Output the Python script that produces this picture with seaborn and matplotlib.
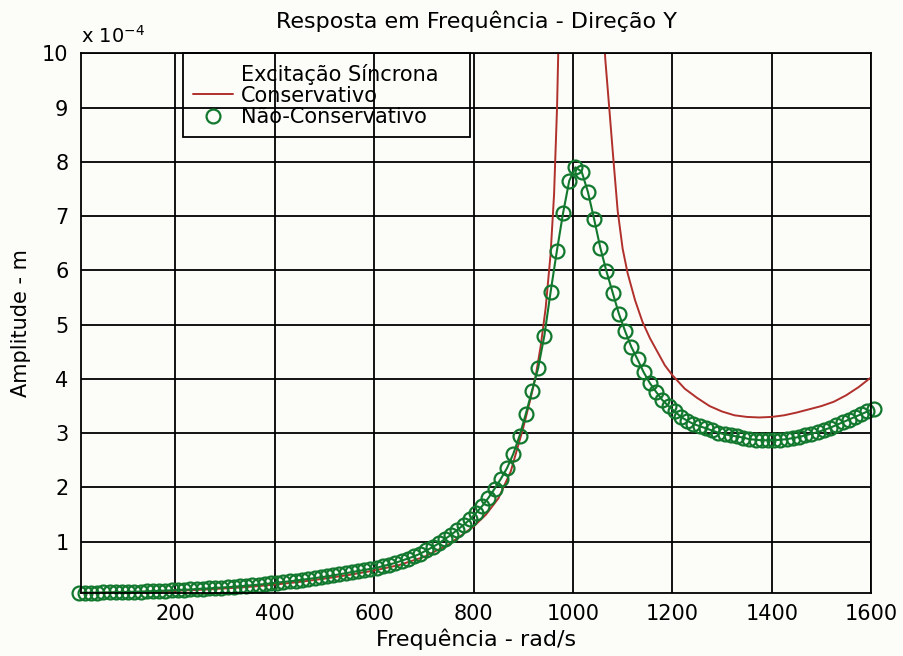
import numpy as np
import pandas as pd
import seaborn as sns
import matplotlib.pyplot as plt
from matplotlib.lines import Line2D

# frequency (rad/s) and amplitude (x 1e-4 m)
freq_cons = [5, 50, 100, 150, 200, 250, 300, 350, 400, 450, 500, 550, 600, 650,
             700, 750, 800, 825, 850, 875, 900, 915, 925, 935, 945, 955, 962,
             968, 974, 985, 1000, 1015, 1030, 1045, 1060, 1065, 1073, 1080,
             1090, 1100, 1110, 1125, 1140, 1155, 1170, 1185, 1200, 1225, 1250,
             1275, 1300, 1325, 1350, 1375, 1400, 1425, 1450, 1475, 1500, 1525,
             1550, 1575, 1600]
amp_cons = [0.055, 0.06, 0.07, 0.08, 0.095, 0.115, 0.14, 0.17, 0.21, 0.26, 0.32,
            0.39, 0.47, 0.57, 0.72, 0.95, 1.28, 1.50, 1.80, 2.30, 3.10, 3.65,
            4.05, 4.60, 5.30, 6.30, 7.40, 9.00, 11.5, 18.0, 40.0, 60.0, 30.0,
            16.0, 10.8, 9.9, 9.0, 8.2, 7.1, 6.4, 5.95, 5.45, 5.05, 4.75, 4.50,
            4.25, 4.07, 3.82, 3.65, 3.50, 3.40, 3.33, 3.30, 3.29, 3.30, 3.33,
            3.38, 3.44, 3.50, 3.58, 3.70, 3.85, 4.03]

freq_ncons = [5, 17.5, 30, 42.5, 55, 67.5, 80, 92.5, 105, 117.5, 130, 142.5,
              155, 167.5, 180, 192.5, 205, 217.5, 230, 242.5, 255, 267.5, 280,
              292.5, 305, 317.5, 330, 342.5, 355, 367.5, 380, 392.5, 405, 417.5,
              430, 442.5, 455, 467.5, 480, 492.5, 505, 517.5, 530, 542.5, 555,
              567.5, 580, 592.5, 605, 617.5, 630, 642.5, 655, 667.5, 680, 692.5,
              705, 717.5, 730, 742.5, 755, 767.5, 780, 792.5, 805, 817.5, 830,
              842.5, 855, 867.5, 880, 892.5, 905, 917.5, 930, 942.5, 955, 967.5,
              980, 992.5, 1005, 1017.5, 1030, 1042.5, 1055, 1067.5, 1080,
              1092.5, 1105, 1117.5, 1130, 1142.5, 1155, 1167.5, 1180, 1192.5,
              1205, 1217.5, 1230, 1242.5, 1255, 1267.5, 1280, 1292.5, 1305,
              1317.5, 1330, 1342.5, 1355, 1367.5, 1380, 1392.5, 1405, 1417.5,
              1430, 1442.5, 1455, 1467.5, 1480, 1492.5, 1505, 1517.5, 1530,
              1542.5, 1555, 1567.5, 1580, 1592.5, 1605]
amp_ncons = [0.06, 0.06, 0.06, 0.06, 0.065, 0.065, 0.07, 0.07, 0.075, 0.08,
             0.08, 0.085, 0.09, 0.095, 0.10, 0.105, 0.11, 0.115, 0.12, 0.13,
             0.135, 0.14, 0.15, 0.155, 0.165, 0.17, 0.18, 0.19, 0.20, 0.21,
             0.22, 0.235, 0.245, 0.26, 0.27, 0.285, 0.30, 0.315, 0.33, 0.345,
             0.36, 0.38, 0.40, 0.42, 0.44, 0.46, 0.48, 0.50, 0.52, 0.55, 0.58,
             0.61, 0.65, 0.69, 0.73, 0.78, 0.84, 0.90, 0.97, 1.05, 1.13, 1.22,
             1.31, 1.41, 1.53, 1.66, 1.81, 1.98, 2.16, 2.36, 2.62, 2.95, 3.35,
             3.78, 4.20, 4.80, 5.60, 6.35, 7.05, 7.65, 7.90, 7.82, 7.45, 6.95,
             6.42, 5.98, 5.59, 5.20, 4.88, 4.59, 4.36, 4.12, 3.92, 3.76, 3.61,
             3.50, 3.40, 3.30, 3.23, 3.17, 3.13, 3.09, 3.05, 3.01, 2.98, 2.96,
             2.94, 2.92, 2.89, 2.88, 2.87, 2.87, 2.87, 2.88, 2.89, 2.91, 2.93,
             2.96, 2.99, 3.02, 3.06, 3.10, 3.15, 3.20, 3.25, 3.30, 3.35, 3.40,
             3.45]

x_ticks = [200, 400, 600, 800, 1000, 1200, 1400, 1600]
y_ticks = [1, 2, 3, 4, 5, 6, 7, 8, 9, 10]

red = "#b0302c"
green = "#12782e"
bg = "#fcfcf9"
fs = 15

sns.set_theme(style="white")
plt.rcParams["font.family"] = ["DejaVu Sans"]
plt.rcParams["text.color"] = "black"

df_c = pd.DataFrame({"freq": freq_cons, "amp": amp_cons})
df_n = pd.DataFrame({"freq": freq_ncons, "amp": amp_ncons})

fig = plt.figure(figsize=(9.04, 6.56), dpi=100, facecolor=bg)
ax = fig.add_axes([0.0896, 0.096, 0.874, 0.8227])
ax.set_facecolor(bg)

sns.lineplot(data=df_c, x="freq", y="amp", color=red, lw=1.4, ax=ax,
             sort=False, estimator=None)
sns.lineplot(data=df_n, x="freq", y="amp", color=green, lw=1.5, ax=ax,
             sort=False, estimator=None)
ax.plot(df_n["freq"], df_n["amp"], ls="none", marker="o", markersize=10,
        markerfacecolor="none", markeredgecolor=green, markeredgewidth=1.6,
        clip_on=False)

ax.set_xlim(10, 1600)
ax.set_ylim(0.055, 10)
ax.set_xticks(x_ticks)
ax.set_yticks(y_ticks)
ax.grid(True, color="black", lw=1.3)
ax.set_axisbelow(True)
for s in ax.spines.values():
    s.set_color("black")
    s.set_linewidth(1.3)
ax.tick_params(length=0, labelsize=fs, colors="black")
ax.tick_params(axis="x", pad=8)
ax.tick_params(axis="y", pad=9)

ax.set_xlabel("Frequência - rad/s", fontsize=16, color="black", labelpad=3)
ax.set_ylabel("Amplitude - m", fontsize=fs, color="black", labelpad=8)
ax.set_title("Resposta em Frequência - Direção Y", fontsize=16,
             color="black", pad=18)
ax.text(0.0, 1.02, r"x 10$^{\mathregular{-4}}$", transform=ax.transAxes,
        fontsize=14, ha="left", va="baseline", color="black")

handles = [Line2D([], [], color="none"),
           Line2D([], [], color=red, lw=1.4),
           Line2D([], [], ls="none", marker="o", markersize=10,
                  markerfacecolor="none", markeredgecolor=green,
                  markeredgewidth=1.6)]
labels = ["Excitação Síncrona", "Conservativo", "Não-Conservativo"]
leg = ax.legend(handles, labels, loc="upper left",
                bbox_to_anchor=(0.129, 0.6, 0.363, 0.4), mode="expand",
                borderaxespad=0, fontsize=15, labelspacing=0.05,
                handlelength=1.9, handletextpad=0.4, borderpad=0.5,
                fancybox=False, frameon=True, framealpha=1,
                labelcolor="black")
leg.get_frame().set_facecolor("none")
leg.get_frame().set_edgecolor("black")
leg.get_frame().set_linewidth(1.3)

fig.savefig("out.png", dpi=100, facecolor=bg)
